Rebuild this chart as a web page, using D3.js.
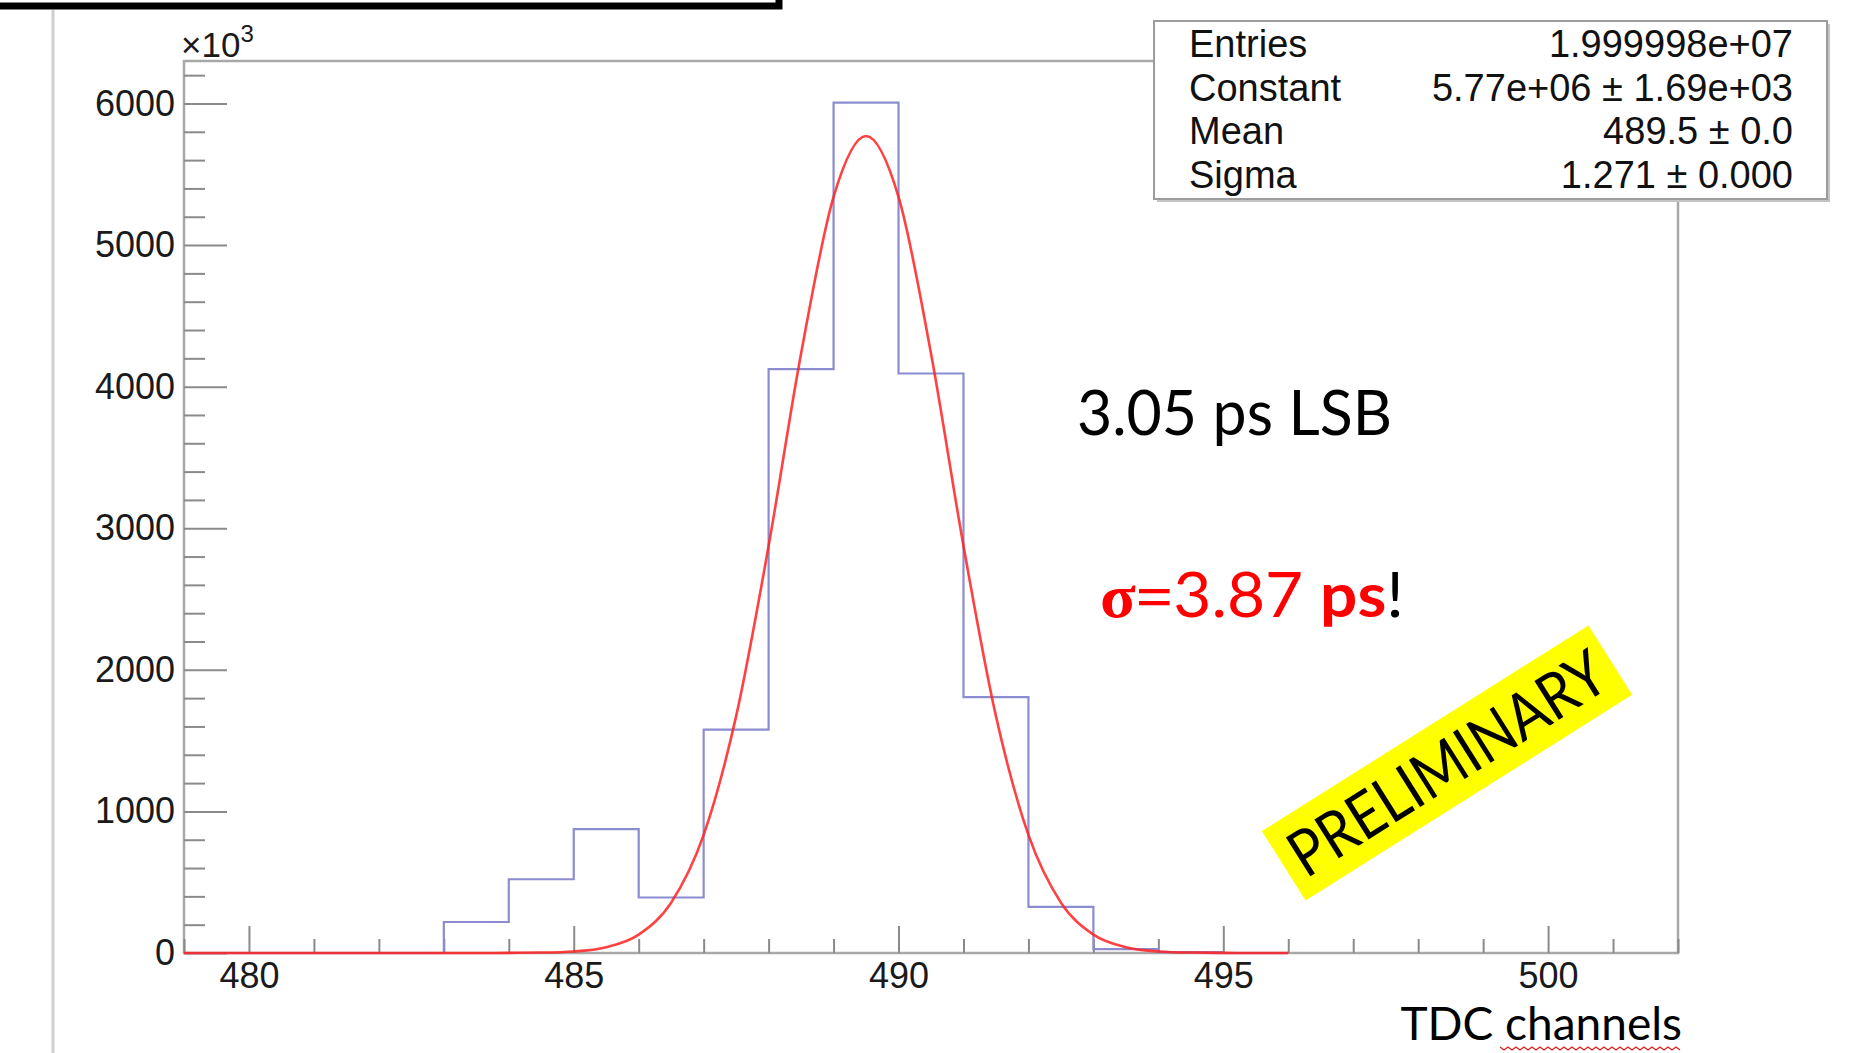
<!DOCTYPE html>
<html>
<head>
<meta charset="utf-8">
<script src="https://cdn.jsdelivr.net/npm/d3@7"></script>
<style>
  body { margin: 0; background: white; }
  svg { display: block; }
</style>
</head>
<body>
<div id="graf"></div>
<script>
// histogram: one value per 1-channel bin, counts in units of 10^3
const binStarts = [479, 480, 481, 482, 483, 484, 485, 486, 487, 488, 489, 490, 491, 492, 493, 494, 495]
const counts = [0, 0, 0, 0, 219, 521, 875, 392, 1577, 4124, 6006, 4093, 1807, 326, 28, 6, 0]

// red fit curve (x10^3)
const fitX = [479, 483, 483.5, 484, 484.5, 485, 485.5, 486, 486.5, 487, 487.5, 488, 488.5, 489, 489.5,
  490, 490.5, 491, 491.5, 492, 492.5, 493, 493.5, 494, 494.5, 495, 495.5, 496]
const fitY = [0, 0, 0, 1, 3, 11, 41, 130, 356, 834, 1673, 2876, 4234, 5340, 5770,
  5340, 4234, 2876, 1673, 834, 356, 130, 41, 11, 3, 1, 0, 0]

const xMajor = [480, 485, 490, 495, 500]
const yMajor = [0, 1000, 2000, 3000, 4000, 5000, 6000]

const statNames = ["Entries", "Constant", "Mean", "Sigma"]
const statValues = ["1.999998e+07", "5.77e+06 \u00b1 1.69e+03", "489.5 \u00b1 0.0", "1.271 \u00b1 0.000"]

const anchoTotal = 1870
const altoTotal = 1053

const frame = { left: 184, right: 1678, top: 61, bottom: 953 }

const svg = d3.select("#graf")
  .append("svg")
  .attr("width", anchoTotal)
  .attr("height", altoTotal)

// slide decorations
svg.append("line")
  .attr("x1", 53).attr("x2", 53)
  .attr("y1", 10).attr("y2", altoTotal)
  .attr("stroke", "#cdd0d2")
  .attr("stroke-width", 3)

svg.append("path")
  .attr("d", "M-5,6 H779 V-5")
  .attr("fill", "none")
  .attr("stroke", "black")
  .attr("stroke-width", 7)

const x = d3.scaleLinear().domain([479, 502]).range([frame.left, frame.right])
const y = d3.scaleLinear().domain([0, 6300]).range([frame.bottom, frame.top])

// frame
svg.append("rect")
  .attr("x", frame.left)
  .attr("y", frame.top)
  .attr("width", frame.right - frame.left)
  .attr("height", frame.bottom - frame.top)
  .attr("fill", "none")
  .attr("stroke", "#a8a8a8")
  .attr("stroke-width", 2.5)

const tickColor = "#8a8a8a"

// y axis, major + minor ticks pointing inside
const yAx = svg.append("g")
  .attr("transform", `translate(${frame.left},0)`)
  .call(d3.axisLeft(y).tickValues(yMajor).tickSizeInner(-43).tickSizeOuter(0).tickPadding(9).tickFormat(d3.format("d")))
yAx.append("g")
  .call(d3.axisLeft(y).tickValues(d3.range(200, 6300, 200).filter((d) => d % 1000 !== 0)).tickSizeInner(-21).tickSizeOuter(0).tickFormat(""))

// x axis
const xAx = svg.append("g")
  .attr("transform", `translate(0,${frame.bottom})`)
  .call(d3.axisBottom(x).tickValues(xMajor).tickSizeInner(-27).tickSizeOuter(0).tickPadding(9).tickFormat(d3.format("d")))
xAx.append("g")
  .call(d3.axisBottom(x).tickValues(d3.range(479, 503).filter((d) => d % 5 !== 0)).tickSizeInner(-14).tickSizeOuter(0).tickFormat(""))

svg.selectAll(".domain").remove()
svg.selectAll(".tick line").attr("stroke", tickColor).attr("stroke-width", 2)
svg.selectAll(".tick text")
  .attr("font-family", "Liberation Sans, Arial, sans-serif")
  .attr("font-size", 36)
  .attr("fill", "#1a1a1a")

// x10^3 multiplier
const mult = svg.append("text")
  .attr("x", frame.left - 3)
  .attr("y", 57)
  .attr("font-family", "Liberation Sans, Arial, sans-serif")
  .attr("font-size", 35)
  .attr("fill", "#1a1a1a")
mult.append("tspan").text("\u00d710")
mult.append("tspan").attr("dy", -15).attr("font-size", 24).text("3")

// histogram outline
const histPts = binStarts.map((b, i) => [b, counts[i]])
histPts.push([binStarts[binStarts.length - 1] + 1, counts[counts.length - 1]])

svg.append("path")
  .datum(histPts)
  .attr("fill", "none")
  .attr("stroke", "#8c8cd0")
  .attr("stroke-width", 2.2)
  .attr("d", d3.line().x((d) => x(d[0])).y((d) => y(d[1])).curve(d3.curveStepAfter))

// fit curve
svg.append("path")
  .datum(fitX.map((v, i) => [v, fitY[i]]))
  .attr("fill", "none")
  .attr("stroke", "#ff2020")
  .attr("stroke-opacity", 0.85)
  .attr("stroke-width", 2.6)
  .attr("d", d3.line().x((d) => x(d[0])).y((d) => y(d[1])).curve(d3.curveMonotoneX))

// stats box
const box = { x: 1154, y: 21, w: 673, h: 178 }
svg.append("rect")
  .attr("x", box.x + 3).attr("y", box.y + 3)
  .attr("width", box.w).attr("height", box.h)
  .attr("fill", "#c4c4c4")
svg.append("rect")
  .attr("x", box.x).attr("y", box.y)
  .attr("width", box.w).attr("height", box.h)
  .attr("fill", "white")
  .attr("stroke", "#9c9c9c")
  .attr("stroke-width", 2)

const rows = svg.append("g")
  .attr("font-family", "Liberation Sans, Arial, sans-serif")
  .attr("font-size", 38)
  .attr("fill", "#111")
rows.selectAll(".sname")
  .data(statNames)
  .enter()
  .append("text")
  .attr("x", 1189)
  .attr("y", (d, i) => 57 + i * 43.5)
  .text((d) => d)
rows.selectAll(".sval")
  .data(statValues)
  .enter()
  .append("text")
  .attr("x", 1793)
  .attr("y", (d, i) => 57 + i * 43.5)
  .attr("text-anchor", "end")
  .text((d) => d)

// annotations
svg.append("text")
  .attr("x", 1077)
  .attr("y", 435)
  .attr("font-family", "Lato, Open Sans, sans-serif")
  .attr("font-size", 62)
  .attr("textLength", 315)
  .attr("lengthAdjust", "spacingAndGlyphs")
  .attr("fill", "black")
  .text("3.05 ps LSB")

const sig = svg.append("text")
  .attr("x", 1100)
  .attr("y", 617)
  .attr("font-size", 62)
  .attr("textLength", 304)
  .attr("lengthAdjust", "spacingAndGlyphs")
  .attr("fill", "#ff0000")
sig.append("tspan").attr("font-family", "Liberation Serif, serif").attr("font-weight", "bold").text("\u03c3=")
sig.append("tspan").attr("font-family", "Lato, sans-serif").text("3.87 ")
sig.append("tspan").attr("font-family", "Lato, sans-serif").attr("font-weight", "bold").text("ps")
sig.append("tspan").attr("font-family", "Lato, sans-serif").attr("fill", "black").text("!")

const prelim = svg.append("g")
  .attr("transform", "translate(1447,763) rotate(-32.2)")
prelim.append("rect")
  .attr("x", -193).attr("y", -41)
  .attr("width", 386).attr("height", 82)
  .attr("fill", "#ffff00")
prelim.append("text")
  .attr("x", 0)
  .attr("y", 23)
  .attr("text-anchor", "middle")
  .attr("font-family", "Lato, Open Sans, sans-serif")
  .attr("font-size", 64)
  .attr("textLength", 362)
  .attr("lengthAdjust", "spacingAndGlyphs")
  .attr("fill", "black")
  .text("PRELIMINARY")

svg.append("text")
  .attr("x", 1682)
  .attr("y", 1040)
  .attr("text-anchor", "end")
  .attr("font-family", "Lato, Open Sans, sans-serif")
  .attr("font-size", 46)
  .attr("fill", "black")
  .text("TDC channels")

// spell-check squiggle under "channels"
const wave = d3.range(1500, 1683, 4).map((v, i) => [v, 1048 + (i % 2 ? 2 : -1)])
svg.append("path")
  .attr("d", d3.line()(wave))
  .attr("fill", "none")
  .attr("stroke", "#e02020")
  .attr("stroke-width", 1.3)
</script>
</body>
</html>
